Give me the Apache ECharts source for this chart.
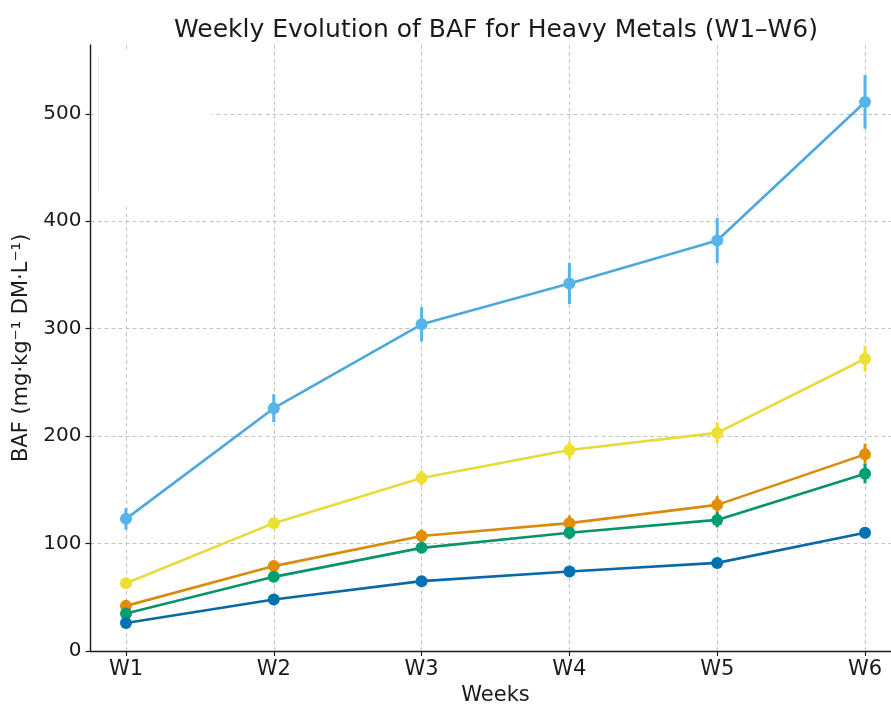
<!DOCTYPE html>
<html>
<head>
<meta charset="utf-8">
<script src="https://cdn.jsdelivr.net/npm/echarts@6/dist/echarts.min.js"></script>
<style>
  html, body { margin: 0; padding: 0; background: #ffffff; overflow: hidden; }
  #chart { width: 910px; height: 704px; }
</style>
</head>
<body>
<div id="chart"></div>
<script>
// Weekly bioaccumulation factor (BAF) per metal, mean and ± spread
const weeks = ['W1', 'W2', 'W3', 'W4', 'W5', 'W6'];
const yTicks = [0, 100, 200, 300, 400, 500];

const metalNames = ['Cd', 'Zn', 'Cu', 'Ni', 'Pb'];
const metalColors = ['#56B4E9', '#ECE133', '#DE8F05', '#029E73', '#0173B2'];
const lineColors  = ['#4DA8DC', '#E6DB3A', '#D98C0A', '#07936C', '#0B68A6'];

const cdMean = [123, 226, 304, 342, 382, 511];
const cdErr  = [10, 13, 16, 19, 21, 25];
const znMean = [63, 119, 161, 187, 203, 272];
const znErr  = [3, 5, 7, 8, 10, 12];
const cuMean = [42, 79, 107, 119, 136, 183];
const cuErr  = [3, 4, 6, 7, 8, 10];
const niMean = [35, 69, 96, 110, 122, 165];
const niErr  = [3, 4, 5, 6, 7, 9];
const pbMean = [26, 48, 65, 74, 82, 110];
const pbErr  = [2, 3, 3, 4, 4, 5];

const means = [cdMean, znMean, cuMean, niMean, pbMean];
const errs  = [cdErr, znErr, cuErr, niErr, pbErr];

const FONT = 'DejaVu Sans';
const weekIdx = weeks.map((w, i) => i);

const series = [];
// error bars first so that lines and markers sit on top
metalNames.forEach((name, k) => {
  series.push({
    type: 'custom',
    name: name + ' ±',
    z: 3,
    silent: true,
    data: weekIdx.map(i => [i, means[k][i] - errs[k][i], means[k][i] + errs[k][i]]),
    renderItem: function (params, api) {
      const lo = api.coord([api.value(0), api.value(1)]);
      const hi = api.coord([api.value(0), api.value(2)]);
      return {
        type: 'line',
        shape: { x1: lo[0], y1: lo[1], x2: hi[0], y2: hi[1] },
        style: { stroke: metalColors[k], lineWidth: 3 }
      };
    }
  });
});
metalNames.forEach((name, k) => {
  series.push({
    type: 'line',
    name: name,
    z: 4,
    data: weekIdx.map(i => [i, means[k][i]]),
    symbol: 'circle',
    symbolSize: 12,
    showAllSymbol: true,
    lineStyle: { color: lineColors[k], width: 2.6 },
    itemStyle: { color: metalColors[k] },
    emphasis: { disabled: true }
  });
});

const chart = echarts.init(document.getElementById('chart'), null, { renderer: 'canvas' });
chart.setOption({
  animation: false,
  backgroundColor: '#ffffff',
  title: {
    text: 'Weekly Evolution of BAF for Heavy Metals (W1\u2013W6)',
    left: 491, top: 13, textAlign: 'center',
    textStyle: { fontFamily: FONT, fontSize: 25, fontWeight: 'normal', color: '#1a1a1a' }
  },
  grid: { left: 90.5, top: 45, width: 810, height: 606, outerBoundsMode: 'none', containLabel: false },
  xAxis: {
    type: 'value',
    min: -0.24, max: 5.24,
    name: 'Weeks',
    nameLocation: 'middle',
    nameGap: 34,
    nameTextStyle: { fontFamily: FONT, fontSize: 21, color: '#1a1a1a' },
    axisLine: { show: true, onZero: false, lineStyle: { color: '#1a1a1a', width: 1.4 } },
    axisTick: { show: true, customValues: weekIdx, length: 5, lineStyle: { color: '#1a1a1a', width: 1.2 } },
    axisLabel: {
      customValues: weekIdx,
      formatter: v => weeks[Math.round(v)],
      margin: 8,
      fontFamily: FONT, fontSize: 21, color: '#1a1a1a'
    },
    splitLine: { show: true, lineStyle: { color: '#c4c4c4', type: [4, 3], width: 1 } }
  },
  yAxis: {
    type: 'value',
    min: 0, max: 564,
    name: 'BAF (mg\u00B7kg\u207B\u00B9 DM\u00B7L\u207B\u00B9)',
    nameLocation: 'middle',
    nameGap: 58,
    nameTextStyle: { fontFamily: FONT, fontSize: 21, color: '#1a1a1a' },
    axisLine: { show: true, onZero: false, lineStyle: { color: '#1a1a1a', width: 1.4 } },
    axisTick: { show: true, customValues: yTicks, length: 5, lineStyle: { color: '#1a1a1a', width: 1.2 } },
    axisLabel: {
      customValues: yTicks,
      margin: 9,
      fontFamily: FONT, fontSize: 20, color: '#1a1a1a'
    },
    splitLine: { show: true, lineStyle: { color: '#c4c4c4', type: [4, 3], width: 1 } }
  },
  graphic: [
    {
      type: 'rect', z: 10,
      shape: { x: 94, y: 52, width: 118, height: 155 },
      style: { fill: '#ffffff' }
    },
    {
      type: 'line', z: 11,
      shape: { x1: 98.5, y1: 58, x2: 98.5, y2: 192 },
      style: { stroke: '#e4e4e4', lineWidth: 1 }
    }
  ],
  series: series
});
</script>
</body>
</html>
